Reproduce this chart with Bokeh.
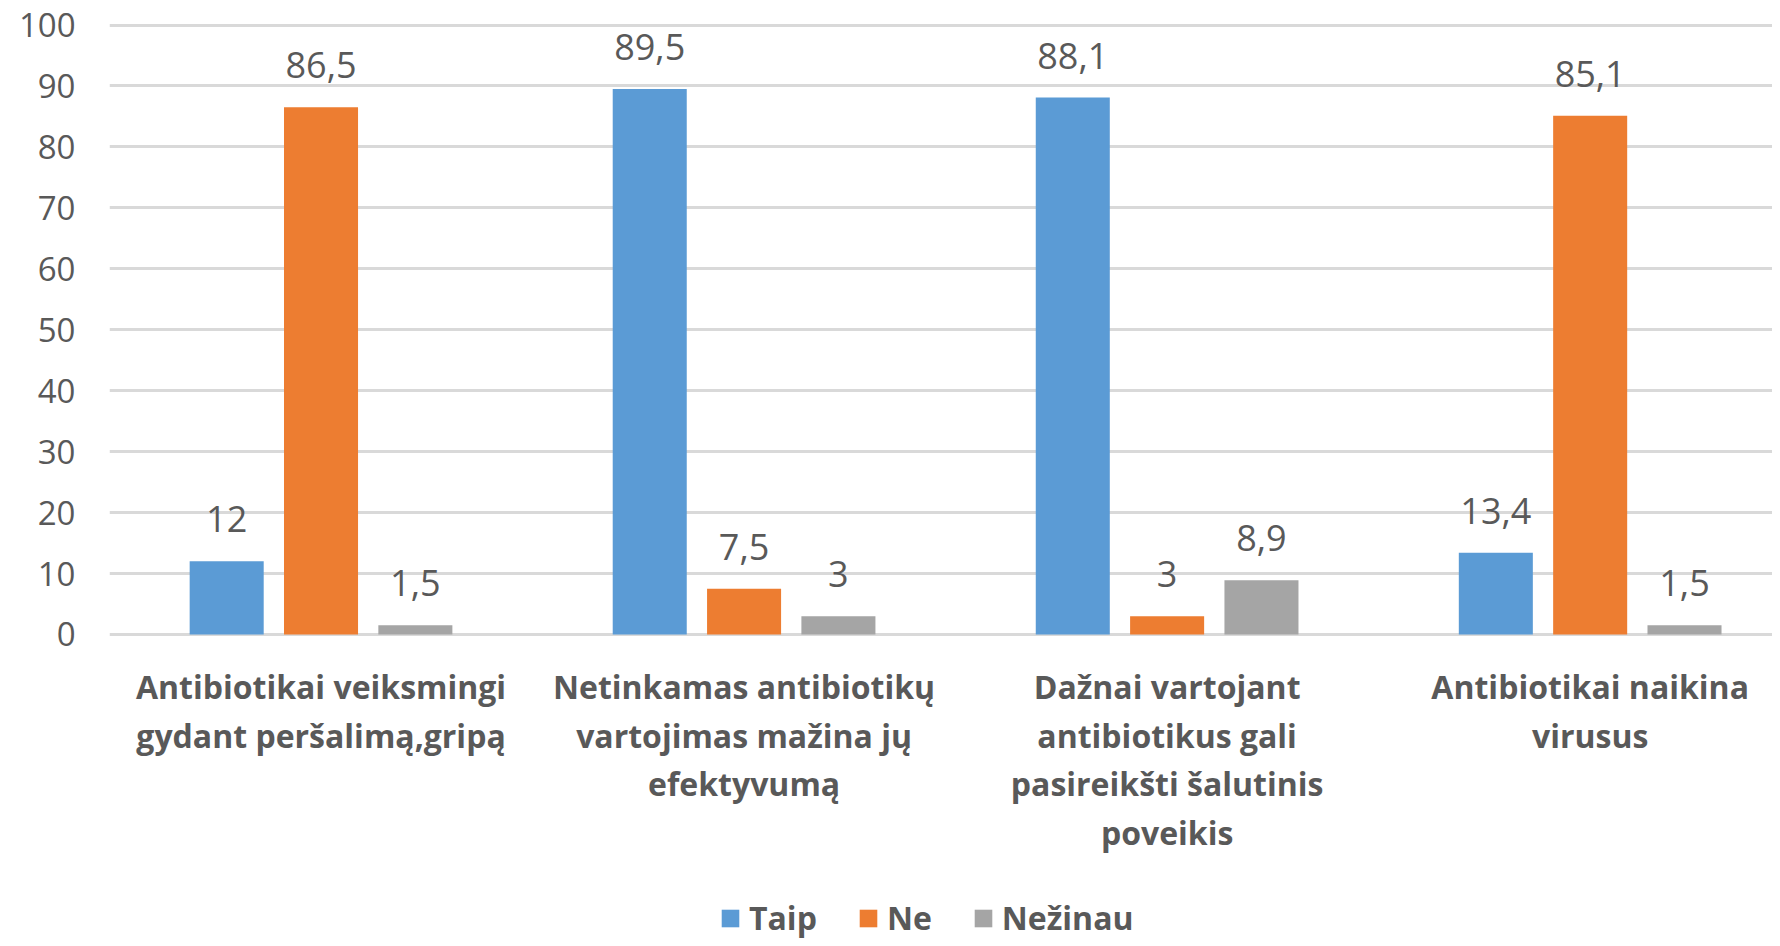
from bokeh.plotting import figure
from bokeh.models import Range1d, FixedTicker, Legend, LegendItem, ColumnDataSource
from bokeh.embed import file_html
from bokeh.resources import INLINE
from bokeh.core.properties import value

categories = [
    "Antibiotikai veiksmingi\ngydant peršalimą,gripą",
    "Netinkamas antibiotikų\nvartojimas mažina jų\nefektyvumą",
    "Dažnai vartojant\nantibiotikus gali\npasireikšti šalutinis\npoveikis",
    "Antibiotikai naikina\nvirusus",
]
taip = [12, 89.5, 88.1, 13.4]
ne = [86.5, 7.5, 3, 85.1]
nezinau = [1.5, 3, 8.9, 1.5]
series_names = ["Taip", "Ne", "Nežinau"]
colors = ["#5B9BD5", "#ED7D31", "#A5A5A5"]
y_ticks = list(range(0, 101, 10))

FONT = "Open Sans"
TXT = "#595959"

p = figure(width=1772, height=938,
           x_range=Range1d(-0.5, 3.431), y_range=Range1d(-49.88, 100.74),
           x_axis_location=None,
           output_backend="svg", toolbar_location=None,
           min_border_left=109, min_border_right=0, min_border_top=20, min_border_bottom=0)
p.outline_line_color = None
p.background_fill_color = "white"
p.border_fill_color = "white"

offsets = [-0.223, 0.0, 0.223]
renderers = []
for s, (name, vals, col) in enumerate(zip(series_names, [taip, ne, nezinau], colors)):
    xs = [i + offsets[s] for i in range(len(categories))]
    src = ColumnDataSource(dict(x=xs, top=vals, lab=[f"{v:g}".replace(".", ",") for v in vals]))
    r = p.vbar(x="x", top="top", bottom=0, width=0.175, source=src, fill_color=col, line_color=None)
    renderers.append(r)
    p.text(x="x", y="top", text="lab", source=src, text_align="center", text_baseline="alphabetic",
           y_offset=-42, text_font=value(FONT), text_font_size="36px", text_color=TXT)

# category labels (one text per line, below the zero line)
cx, cy, ct, coff = [], [], [], []
for i, c in enumerate(categories):
    for k, line in enumerate(c.split("\n")):
        cx.append(i)
        cy.append(0)
        ct.append(line)
        coff.append(52 + 48.7 * k)
p.text(x="x", y="y", text="t", y_offset="o",
       source=ColumnDataSource(dict(x=cx, y=cy, t=ct, o=coff)),
       text_align="center", text_baseline="alphabetic",
       text_font=value(FONT), text_font_size="32px", text_font_style="bold", text_color=TXT)

p.xgrid.grid_line_color = None
p.ygrid.grid_line_color = "#D9D9D9"
p.ygrid.grid_line_width = 3
p.ygrid.ticker = FixedTicker(ticks=y_ticks)

p.yaxis.ticker = FixedTicker(ticks=y_ticks)
p.yaxis.axis_line_color = None
p.yaxis.major_tick_line_color = None
p.yaxis.minor_tick_line_color = None
p.yaxis.major_label_standoff = 28
p.yaxis.major_label_text_font = FONT
p.yaxis.major_label_text_font_size = "33px"
p.yaxis.major_label_text_color = TXT

legend = Legend(items=[LegendItem(label=n, renderers=[r]) for n, r in zip(series_names, renderers)],
                orientation="horizontal", location=(610, -1),
                label_text_font=FONT, label_text_font_size="32px", label_text_font_style="bold",
                label_text_color=TXT, glyph_width=22, glyph_height=22, label_standoff=8,
                spacing=40, border_line_color=None, padding=0, margin=0,
                background_fill_alpha=0)
p.add_layout(legend, "center")

open("out.html", "w").write(file_html(p, INLINE))
